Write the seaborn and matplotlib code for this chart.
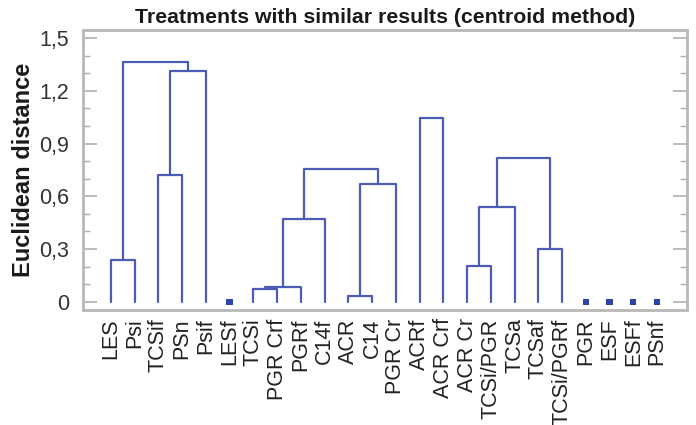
import numpy as np
import pandas as pd
import matplotlib
matplotlib.use("Agg")
import matplotlib.pyplot as plt
import seaborn as sns
from matplotlib.ticker import MultipleLocator, FuncFormatter

# ---- data ----
leaves = ["LES", "Psi", "TCSif", "PSn", "Psif", "LESf", "TCSi", "PGR Crf", "PGRf",
          "C14f", "ACR", "C14", "PGR Cr", "ACRf", "ACR Crf", "ACR Cr", "TCSi/PGR",
          "TCSa", "TCSaf", "TCSi/PGRf", "PGR", "ESF", "ESFf", "PSnf"]
# merges: node ids 0..23 are leaves, each merge creates node id 24, 25, ...
merge_a = [0, 2, 25, 24, 6, 28, 29, 10, 31, 30, 13, 15, 35, 18, 36]
merge_b = [1, 3, 4, 26, 7, 8, 9, 11, 12, 32, 14, 16, 17, 19, 37]
merge_h = [0.237, 0.72, 1.314, 1.367, 0.07, 0.085, 0.471, 0.034, 0.668, 0.754,
           1.044, 0.203, 0.541, 0.30, 0.82]
singletons = ["LESf", "PGR", "ESF", "ESFf", "PSnf"]

# ---- build dendrogram segments ----
pos = {i: float(i) for i in range(len(leaves))}
hgt = {i: 0.0 for i in range(len(leaves))}
rows = []
nid = len(leaves)
for k, (a, b, h) in enumerate(zip(merge_a, merge_b, merge_h)):
    xa, xb = pos[a], pos[b]
    pts = [(xa, hgt[a]), (xa, h), (xb, h), (xb, hgt[b])]
    for j, (x, y) in enumerate(pts):
        rows.append({"link": k, "order": j, "x": x, "y": y})
    pos[nid] = (xa + xb) / 2
    hgt[nid] = h
    nid += 1
df = pd.DataFrame(rows)
sdf = pd.DataFrame({"x": [leaves.index(s) for s in singletons],
                    "y": [0.0] * len(singletons)})

# ---- plot ----
sns.set_theme(style="white")
plt.rcParams["font.family"] = ["Liberation Sans", "DejaVu Sans"]

fig = plt.figure(figsize=(6.96, 4.25), dpi=100)
ax = fig.add_axes([0.119, 0.2706, 0.868, 0.659])

line_color = "#4c5cb6"
sns.lineplot(data=df, x="x", y="y", units="link", estimator=None, sort=False,
             color=line_color, lw=1.6, ax=ax)
sns.scatterplot(data=sdf, x="x", y="y", marker="s", s=20, color="#2a44a8",
                edgecolor="none", ax=ax)

ax.set_xlim(-1.18, 24.26)
ax.set_ylim(-0.047, 1.547)
ax.set_xticks(range(len(leaves)))
ax.set_xticklabels(leaves, rotation=90, fontsize=15.5, color="#222222")
ax.tick_params(axis="x", length=0, pad=6)

ax.yaxis.set_major_locator(MultipleLocator(0.3))
ax.yaxis.set_minor_locator(MultipleLocator(0.1))
ax.yaxis.set_major_formatter(FuncFormatter(
    lambda v, p: "0" if abs(v) < 1e-9 else f"{v:.1f}".replace(".", ",")))
ax.tick_params(axis="y", which="both", direction="in", left=True, right=True,
               color="#b0b0b0", labelsize=15.5, labelcolor="#333333", pad=10)
ax.tick_params(axis="y", which="major", length=10, width=1.2)
ax.tick_params(axis="y", which="minor", length=5, width=1.0)

for sp in ax.spines.values():
    sp.set_color("#b8b8b8")
    sp.set_linewidth(2.0)

ax.set_xlabel("")
ax.set_ylabel("")
fig.text(24 / 696, 1 - 170 / 425, "Euclidean distance", rotation=90,
         ha="center", va="center", fontsize=17, fontweight="bold", color="#1a1a1a")
ax.set_title("Treatments with similar results (centroid method)", fontsize=15.3,
             fontweight="bold", color="#1a1a1a", pad=5)

fig.savefig("out.png", dpi=100)
